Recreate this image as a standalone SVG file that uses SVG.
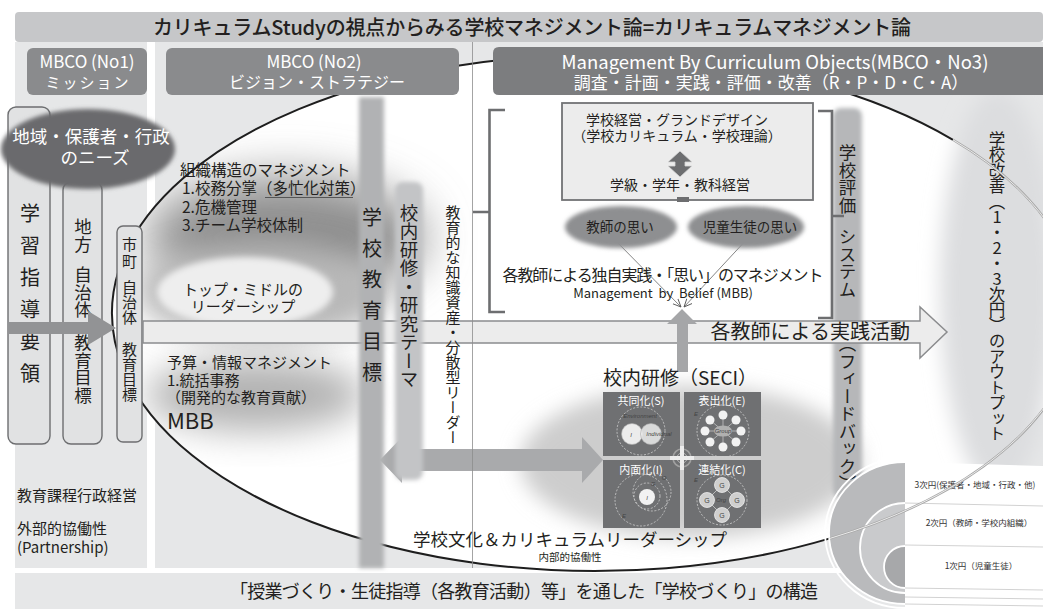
<svg xmlns="http://www.w3.org/2000/svg" width="1043" height="609" viewBox="0 0 1043 609">
<style>
text{font-family:'Noto Sans CJK JP','Noto Sans',sans-serif;fill:#231f20}
.c{text-anchor:middle}
.e{text-anchor:end}
.w{fill:#fff}
.v{writing-mode:vertical-rl;text-orientation:upright}
.panel{fill:#e6e7e8}
.hdr{fill:#8a8b8d}
.col{fill:#e1e2e3;stroke:#6d6e70;stroke-width:1.4}
.brk{fill:none;stroke:#6d6e70;stroke-width:2.6}
.sq{fill:#6f7072}
.dash{fill:none;stroke:#d0d0d0;stroke-width:.8;stroke-dasharray:2 1.6}
.sl{fill:#fff;font-size:11px;text-anchor:middle}
.it{font-family:'Liberation Sans',sans-serif;font-style:italic;font-size:6px;fill:#444;text-anchor:middle}
.g{font-family:'Liberation Sans',sans-serif;font-size:7px;fill:#444;text-anchor:middle}
.card{font-size:8.5px;text-anchor:middle;fill:#333}
</style>
<defs>
<filter id="f2" x="-50%" y="-50%" width="200%" height="200%"><feGaussianBlur stdDeviation="2"/></filter>
<filter id="f3" x="-50%" y="-50%" width="200%" height="200%"><feGaussianBlur stdDeviation="3"/></filter>
<filter id="f10" x="-50%" y="-50%" width="200%" height="200%"><feGaussianBlur stdDeviation="10"/></filter>
<filter id="f15" x="-50%" y="-50%" width="200%" height="200%"><feGaussianBlur stdDeviation="15"/></filter>
<filter id="f18" x="-50%" y="-50%" width="200%" height="200%"><feGaussianBlur stdDeviation="18"/></filter>
<filter id="f24" x="-50%" y="-50%" width="200%" height="200%"><feGaussianBlur stdDeviation="24"/></filter>
<clipPath id="ec"><ellipse cx="595" cy="313" rx="483" ry="258"/></clipPath>
<marker id="vh" viewBox="0 0 10 10" refX="9" refY="5" markerWidth="9" markerHeight="9" markerUnits="userSpaceOnUse" orient="auto"><path d="M0,1 L9,5 L0,9" fill="none" stroke="#555" stroke-width="1"/></marker>
</defs>

<rect width="1043" height="609" fill="#fff"/>

<g id="title">
<rect x="15" y="12" width="1028" height="30" rx="4" fill="#c6c7c9"/>
<text x="532" y="35" class="c" font-size="20" font-weight="500" textLength="758" lengthAdjust="spacing">カリキュラムStudyの視点からみる学校マネジメント論=カリキュラムマネジメント論</text>
</g>

<!-- background panels and the school ellipse -->
<g id="panels">
<rect class="panel" x="15" y="42" width="132" height="526"/>
<rect class="panel" x="155" y="42" width="888" height="526"/>
<rect class="panel" x="15" y="573" width="1028" height="36"/>
<ellipse cx="595" cy="313" rx="483" ry="258" fill="#fff"/>
<g clip-path="url(#ec)">
<ellipse cx="285" cy="238" rx="140" ry="62" fill="#8e8e8e" filter="url(#f24)"/>
<ellipse cx="262" cy="292" rx="125" ry="48" fill="#b8b8b8" filter="url(#f15)"/>
<ellipse cx="255" cy="395" rx="110" ry="36" fill="#b2b2b2" filter="url(#f18)"/>
<ellipse cx="690" cy="462" rx="170" ry="76" fill="#cdcdcd" filter="url(#f10)"/>
</g>
<ellipse cx="998" cy="290" rx="58" ry="200" fill="#dcdddf" filter="url(#f10)"/>
<path d="M953,139.8 A483,258 0 1 0 830,538.4" fill="none" stroke="#1e1e1e" stroke-width="2"/>
</g>

<g id="hdr-no1">
<rect class="hdr" x="27" y="48" width="120" height="47" rx="6"/>
<text class="c w" x="87" y="68" font-size="17">MBCO (No1)</text>
<text class="c w" x="88" y="87.5" font-size="15" letter-spacing="2">ミッション</text>
</g>
<g id="hdr-no2">
<rect class="hdr" x="166" y="48" width="293" height="47" rx="6"/>
<text class="c w" x="314" y="68" font-size="17">MBCO (No2)</text>
<text class="c w" x="317" y="88" font-size="16">ビジョン・ストラテジー</text>
</g>
<g id="hdr-no3">
<path d="M499,47 H1043 V95 H499 Q493,95 493,89 V53 Q493,47 499,47 Z" fill="#7c7d7f"/>
<text class="c w" x="775" y="69" font-size="18.5">Management By Curriculum Objects(MBCO・No3)</text>
<text class="c w" x="771" y="89" font-size="17">調査・計画・実践・評価・改善（R・P・D・C・A）</text>
</g>

<!-- mission side: guideline, local and city goals -->
<g id="col-guideline">
<rect class="col" x="8" y="107" width="42" height="337" rx="8"/>
<text class="v" x="30" y="203" font-size="20" letter-spacing="12">学習指導要領</text>
</g>
<g id="col-local">
<rect class="col" x="63" y="182" width="39" height="262" rx="8"/>
<text class="v" x="83" y="218" font-size="17.5" letter-spacing=".5">地方</text>
<text class="v" x="83" y="266" font-size="17.5">自治体</text>
<text class="v" x="83" y="334" font-size="17.5">教育目標</text>
</g>
<g id="col-city">
<rect class="col" x="117" y="226" width="25" height="216" rx="6"/>
<text class="v" x="129.5" y="237" font-size="15" letter-spacing="2">市町</text>
<text class="v" x="129.5" y="280" font-size="15">自治体</text>
<text class="v" x="129.5" y="342" font-size="15">教育目標</text>
</g>
<g id="needs">
<ellipse cx="88" cy="149" rx="87" ry="40" fill="#6a6b6d" filter="url(#f2)"/>
<text class="c w" x="91" y="143" font-size="17.5">地域・保護者・行政</text>
<text class="c w" x="95" y="164" font-size="17.5">のニーズ</text>
</g>

<g id="org-mgmt">
<text x="180" y="176" font-size="15.5">組織構造のマネジメント</text>
<text x="182" y="194" font-size="15.5">1.校務分掌（多忙化対策）</text>
<line x1="265" y1="197.5" x2="353" y2="197.5" stroke="#555" stroke-width="1.2"/>
<text x="182" y="213" font-size="15.5">2.危機管理</text>
<text x="182" y="231" font-size="15.5">3.チーム学校体制</text>
</g>
<g id="leadership">
<ellipse cx="245" cy="292" rx="88" ry="35" fill="#eeeeee" filter="url(#f3)"/>
<text class="c" x="243" y="294.5" font-size="15">トップ・ミドルの</text>
<text class="c" x="243" y="311.5" font-size="15">リーダーシップ</text>
</g>
<g id="budget">
<text x="167" y="367.7" font-size="15">予算・情報マネジメント</text>
<text x="167" y="385.7" font-size="15">1.統括事務</text>
<text x="166" y="402.7" font-size="15">（開発的な教育貢献）</text>
<text x="167" y="429" font-size="22">MBB</text>
</g>

<g id="school-eval">
<rect x="833" y="108" width="29" height="390" rx="8" fill="#b6b7b9" filter="url(#f2)"/>
<text class="v" x="847.5" y="144" font-size="17.5">学校評価</text>
<text class="v" x="847.5" y="228" font-size="17.5">システム</text>
<text class="v" x="847.5" y="335" font-size="17.5">（フィードバック）</text>
</g>

<g id="connectors">
<polygon points="143,321 920,321 920,307 947,332 920,358 920,343 143,343" fill="#ececec" stroke="#8b8c8e" stroke-width="1.5"/>
<polygon points="380,460 402,437 402,449 582,449 582,437 603,460 582,483 582,471 402,471 402,483" fill="#a9aaac"/>
<polygon points="677,372 677,324 667,324 682,309 697,324 688,324 688,372" fill="#a5a6a8"/>
<polygon points="8,322 88,322 88,311 116,328 88,345 88,334 8,334" fill="#929395"/>
<line x1="613" y1="238" x2="681" y2="307" stroke="#666" stroke-width=".8" marker-end="url(#vh)"/>
<line x1="748" y1="238" x2="684" y2="307" stroke="#666" stroke-width=".8" marker-end="url(#vh)"/>
</g>
<g id="practice">
<text class="e" x="910" y="339" font-size="20">各教師による実践活動</text>
</g>

<g id="bar-goal">
<rect x="359" y="97" width="25" height="471" fill="#b1b2b4" filter="url(#f2)"/>
<text class="v" x="372" y="207" font-size="20" letter-spacing="11">学校教育目標</text>
</g>
<g id="bar-research">
<rect x="395" y="182" width="28" height="298" rx="8" fill="#c3c4c6" filter="url(#f2)"/>
<text class="v" x="409" y="203.5" font-size="18.5">校内研修・研究テーマ</text>
</g>
<g id="knowledge">
<text class="v" x="453" y="204.5" font-size="15">教育的な知識資産・分散型リーダー</text>
</g>
<line x1="472.5" y1="42" x2="472.5" y2="568" stroke="#8d8d8d" stroke-width=".8"/>

<g id="design-box">
<path class="brk" d="M505,110 H489.5 V312 H505 M489.5,212 H473"/>
<path class="brk" d="M818,111 H832 V318 H818 M832,216 H844"/>
<rect x="562" y="103" width="251" height="97" fill="#ececec" stroke="#727375" stroke-width="1.8"/>
<rect x="677" y="197" width="12" height="5" fill="#6d6e70"/>
<text class="c" x="677" y="124.5" font-size="14">学校経営・グランドデザイン</text>
<text class="c" x="677" y="140.5" font-size="14">（学校カリキュラム・学校理論）</text>
<polygon points="680,151 692,162 685,162 685,166 692,166 680,177 668,166 675,166 675,162 668,162" fill="#6d6e70" stroke="#d8d8d8" stroke-width=".8"/>
<text class="c" x="680" y="190" font-size="14">学級・学年・教科経営</text>
</g>

<g id="belief">
<ellipse cx="621" cy="227" rx="56" ry="21" fill="#8e8f91" filter="url(#f2)"/>
<ellipse cx="746" cy="227" rx="58" ry="21" fill="#8e8f91" filter="url(#f2)"/>
<text class="c" x="620" y="232" font-size="13.5">教師の思い</text>
<text class="c" x="750" y="232" font-size="13.5">児童生徒の思い</text>
<text class="c" x="663" y="280.5" font-size="16" textLength="321" lengthAdjust="spacing">各教師による独自実践・「思い」のマネジメント</text>
<text class="c" x="663" y="297.5" font-size="13" xml:space="preserve">Management  by  Belief (MBB)</text>
</g>

<g id="seci">
<text class="c" x="680" y="385" font-size="19">校内研修（SECI）</text>
<rect class="sq" x="603" y="392" width="77" height="64"/>
<rect class="sq" x="684" y="392" width="77" height="64"/>
<rect class="sq" x="603" y="460" width="77" height="68"/>
<rect class="sq" x="684" y="460" width="77" height="68"/>
<text class="sl" x="641" y="405">共同化(S)</text>
<text class="sl" x="722" y="405">表出化(E)</text>
<text class="sl" x="641" y="474">内面化(I)</text>
<text class="sl" x="722" y="474">連結化(C)</text>
<!-- socialization -->
<circle class="dash" cx="641" cy="431" r="24"/>
<circle cx="632" cy="434" r="10.5" fill="#ececec" stroke="#aaa" stroke-width=".6"/>
<circle cx="651" cy="434" r="10.5" fill="#ececec" fill-opacity=".85" stroke="#aaa" stroke-width=".6"/>
<text class="it" x="640" y="418" fill="#ddd">Environment</text>
<text class="it" x="631" y="437" font-size="7">I</text>
<text class="it" x="659" y="436">Individual</text>
<!-- externalization -->
<circle class="dash" cx="723" cy="431" r="26"/>
<g stroke="#ddd" stroke-width=".6">
<line x1="723" y1="431" x2="723" y2="415"/><line x1="723" y1="431" x2="736" y2="420"/>
<line x1="723" y1="431" x2="741" y2="431"/><line x1="723" y1="431" x2="736" y2="442"/>
<line x1="723" y1="431" x2="723" y2="447"/><line x1="723" y1="431" x2="710" y2="442"/>
<line x1="723" y1="431" x2="705" y2="431"/><line x1="723" y1="431" x2="710" y2="420"/>
</g>
<ellipse cx="723" cy="431" rx="9" ry="5.5" fill="#b0b0b0"/>
<text class="it" x="723" y="433" font-size="5">Group</text>
<g fill="#f2f2f2">
<circle cx="723" cy="415" r="4.5"/><circle cx="736" cy="420" r="4.5"/>
<circle cx="741" cy="431" r="4.5"/><circle cx="736" cy="442" r="4.5"/>
<circle cx="723" cy="447" r="4.5"/><circle cx="710" cy="442" r="4.5"/>
<circle cx="705" cy="431" r="4.5"/><circle cx="710" cy="420" r="4.5"/>
</g>
<text class="it" x="696" y="416" fill="#eee" font-size="6.5">E</text>
<!-- internalization -->
<circle class="dash" cx="652" cy="492" r="19"/>
<circle class="dash" cx="647" cy="496" r="13"/>
<circle class="dash" cx="641" cy="500" r="26"/>
<circle cx="647" cy="497" r="8" fill="#f2f2f2"/>
<text class="it" x="647" y="500" font-size="7">I</text>
<text class="it" x="653" y="486" fill="#eee" font-size="6.5">G</text>
<text class="it" x="664" y="480" fill="#eee" font-size="6.5">O</text>
<text class="it" x="624" y="518" fill="#eee" font-size="6.5">E</text>
<!-- combination -->
<circle class="dash" cx="722" cy="500" r="25"/>
<path d="M722,485 L707,500 L722,515 L737,500 Z" fill="none" stroke="#ddd" stroke-width=".7"/>
<g fill="#cfcfcf" stroke="#eee" stroke-width=".8">
<circle cx="722" cy="485" r="7.5"/><circle cx="707" cy="500" r="7.5"/>
<circle cx="737" cy="500" r="7.5"/><circle cx="722" cy="515" r="7.5"/>
</g>
<text class="g" x="722" y="487.5">G</text><text class="g" x="707" y="502.5">G</text>
<text class="g" x="737" y="502.5">G</text><text class="g" x="722" y="517.5">G</text>
<text class="it" x="721" y="502" fill="#eee">Org</text>
<text class="it" x="696" y="482" fill="#eee" font-size="6.5">E</text>
<!-- spiral at the centre -->
<circle cx="682" cy="458" r="9" fill="none" stroke="#a0a0a0" stroke-width="1.6"/>
<circle cx="682" cy="458" r="5" fill="none" stroke="#b8b8b8" stroke-width="1"/>
<rect x="680" y="446" width="4" height="24" fill="#ededed"/>
<rect x="670" y="456" width="24" height="4" fill="#ededed"/>
</g>

<g id="culture">
<text class="c" x="570" y="545.5" font-size="17.5">学校文化＆カリキュラムリーダーシップ</text>
<text class="c" x="570" y="561" font-size="10.5">内部的協働性</text>
</g>

<g id="improvement">
<text class="v" x="997" y="131" font-size="16.5" letter-spacing="-1">学校改善（1・2・3次円）のアウトプット</text>
</g>

<g id="partnership">
<text x="17" y="500.5" font-size="15">教育課程行政経営</text>
<text x="17" y="533.5" font-size="15">外部的協働性</text>
<text x="17" y="552.5" font-size="15">(Partnership)</text>
</g>

<g id="footer">
<text class="c" x="524" y="597.5" font-size="18" textLength="588" lengthAdjust="spacing">「授業づくり・生徒指導（各教育活動）等」を通した「学校づくり」の構造</text>
</g>

<g id="circles">
<path d="M905,462 L1043,466 L1043,609 L905,609 Z" fill="#fff"/>
<g stroke="#d2d2d2" stroke-width="1">
<line x1="905" y1="503" x2="1043" y2="506"/>
<line x1="905" y1="545" x2="1043" y2="547"/>
<line x1="905" y1="588" x2="1043" y2="590"/>
<line x1="905" y1="597" x2="1043" y2="599"/>
<line x1="905" y1="604" x2="1043" y2="606"/>
</g>
<path d="M905,462 A76,71 0 0 0 905,604 Z" fill="#b9babc"/>
<path d="M905,503 A45,45 0 0 0 905,593 Z" fill="#c9cacc"/>
<path d="M905,546 A21,21 0 0 0 905,588 Z" fill="#a7a8aa"/>
<g fill="none" stroke="#fff" stroke-width="1.8">
<path d="M905,462 A76,71 0 0 0 905,604"/>
<path d="M905,458 A80,75 0 0 0 905,608"/>
<path d="M905,503 A45,45 0 0 0 905,593"/>
<path d="M905,546 A21,21 0 0 0 905,588"/>
</g>
<text class="card" x="975" y="488">3次円(保護者・地域・行政・他)</text>
<text class="card" x="979" y="526">2次円（教師・学校内組織）</text>
<text class="card" x="981" y="569" font-size="9">1次円（児童生徒）</text>
</g>

<!-- right-hand stretch of the school ellipse, drawn as a faint double line -->
<g id="ellipse-edge">
<path d="M830,538.4 A483,258 0 0 0 953,139.8" fill="none" stroke="#a8a8a8" stroke-width="2.4"/>
<path d="M830,538.4 A483,258 0 0 0 953,139.8" fill="none" stroke="#f2f2f2" stroke-width="0.9"/>
</g>
</svg>
